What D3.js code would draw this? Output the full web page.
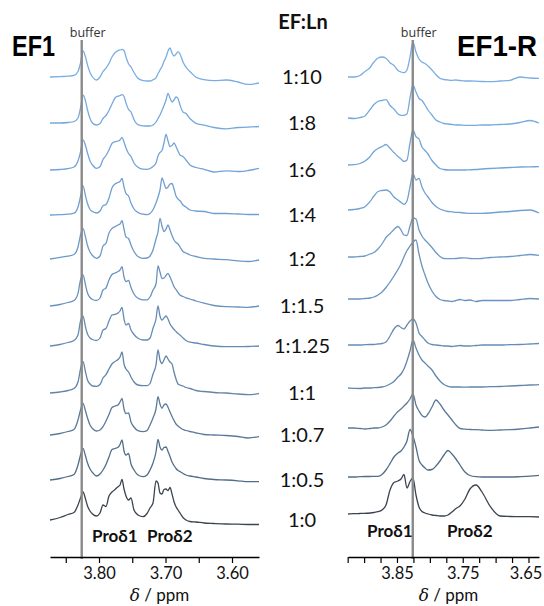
<!DOCTYPE html>
<html><head><meta charset="utf-8">
<script src="https://cdn.jsdelivr.net/npm/d3@7"></script>
<style>body{margin:0;background:#fff}</style>
</head><body><svg id="c" width="544" height="606"></svg>
<script>
// ---------- data ----------
const ratios = ["1:10","1:8","1:6","1:4","1:2","1:1.5","1:1.25","1:1","1:0.7","1:0.5","1:0"];
const bufferPpm = 3.826;

// EF1 (left) chemical-shift knots, ppm
const ef1Ppm = [3.8737,3.8586,3.8466,3.8376,3.8316,3.8278,3.8241,3.8203,3.8173,3.8135,3.8098,3.8038,
 3.7985,3.7940,3.7895,3.7850,3.7805,3.7759,3.7714,3.7684,3.7654,3.7624,3.7594,3.7556,3.7519,3.7474,3.7414,3.7338,3.7278,
 3.7233,3.7188,3.7143,3.7113,3.7083,3.7053,3.7023,3.6992,3.6962,3.6932,3.6902,3.6872,3.6842,3.6812,3.6782,3.6737,3.6692,3.6632,3.6541,
 3.6421,3.6271,3.6090,3.5910,3.5759,3.5594];
// EF1 intensities (a.u.) per ratio
const ef1_r10  = [0,0.4,0.8,1.6,5.5,14,26,20,12,4.5,0,-3,0,5.5,8.8,13.5,20,24.3,26.4,27,27.6,26.5,20,13.2,10,4.5,-1.3,-3.6,-4,-4,-2.8,-0.8,3.2,7,10.5,15.5,20,26,29,24,21,23,25.3,23,15,9.8,5.5,-0.3,-2.6,-3.6,-3,-5,-7.4,-6];
const ef1_r8   = [0,0,0.5,1.5,5,15,28,22,13,4.5,0,-2,-0.5,4.5,7.5,12.5,19,25,26.8,27.5,28.3,26.5,20,13.5,11,3.5,-1.7,-2.8,-3,-3,-2,1,4.5,8,12.5,17.5,23,29.5,25,21,23,26,24.5,18,11,9.5,4.5,-0.3,-2.2,-4.5,-5.8,-4.5,-4.2,-3.5];
const ef1_r6   = [0,0.5,1.3,3,9,18,30,24.5,17,9,5,1.7,3.3,10.5,14.5,20,26.5,28.3,29,30,32.7,28,22,16.5,13.5,7,2.7,0.8,0.7,1.5,3.5,7,14,17.5,19.5,27,35.5,29,23.5,24.5,27,23.5,19,15,13.5,10,5,2.5,0.7,-2,-0.8,-1.5,-0.5,1.7];
const ef1_r4   = [0,0.3,0.8,1.8,8,18.5,29.3,19,11.5,5.5,3.5,2,4,9.3,10.5,17,27,31,32.5,33.5,36.7,28,21.5,19,12,6,2.5,0.8,0.3,1.5,5.3,12,17.7,25,37,32,26.5,28,31,31.5,26,19,16,14.3,10,8,5,4,3.5,1.5,1.5,1,0.5,0.5];
const ef1_r2   = [0,1.7,2.8,4.5,12,24,30.7,22,13.5,7,3.5,0.7,3,13,15.7,26,30.5,32.3,34,35,38.3,30,22,20.5,14,7.5,2.5,0.7,1,3,9,20,27,40.7,33,27.5,30,34,29,23.5,19,16.5,15,12,7.5,6,4,2.5,0.7,0,-0.7,-1.8,-2.5,-1];
const ef1_r1_5 = [0,1.5,3.5,5.5,12.7,26,31,21,13,8.5,6.5,5.5,8,16,18,26,31.5,33,34.5,36,39.3,29,24.5,25.5,18.5,12,7.7,6.2,6.2,9,16,22,40,34,27.5,28,30.5,32.7,29,24.3,19.3,16.5,13.5,11,9.5,8.2,7,5,2.8,0.5,-0.7,-1,-1.3,0];
const ef1_r1_25= [0,1.5,3.5,5.5,11,25,30,19,12,8,6.5,5.5,8,16,17.5,25,31,31.7,33,35,38.7,27,21,22.5,16,11.5,7.7,6,6,8,17.7,27,40,30,26,28,30,27,22,19,16.5,14.5,12.5,11,8,5.5,3.8,3,1.5,0,-0.7,-0.7,-0.5,0];
const ef1_r1   = [0,1,2.5,4.5,11,24,31.6,21,13,9,7,6.7,8.5,15,18.3,24,29,31.5,33.5,36,41,29,24,21,16,11,8,7.3,7.3,9.5,19,28,43,33,29.5,33,37,34,31,29,21,14,9,8,7,5.5,4.5,2.5,1.5,0.5,0,-1,-1.7,-0.7];
const ef1_r0_7 = [0,1.5,3.5,5.5,15,25,31.7,24,17,10,6.5,4,5,8.3,14,20.5,27.5,29,30,33,36.7,26,21.5,22,13,8,4.3,3.3,4.3,10,17,26,38.3,31,26.7,30,31,27.7,23,18.5,14.5,11,9,7.5,5.5,4.5,3.5,2,0.5,0,-0.5,-1.5,-3,-1.7];
const ef1_r0_5 = [0,1.5,3.5,5.5,15,25,31.7,24,17,11,7.5,4,6,10,15.5,23,30.5,31.5,32.7,35.5,40,29,25,26.5,16,10,5,3.3,5,10,17,28,40.7,33,30,32.5,33,28.5,23.5,18,14.5,11.5,9.5,8.5,6.5,5,4,3,1.5,0.5,0,-0.8,-1.7,-1.7];
const ef1_r0   = [0,2.5,5.5,7.5,15,22,28,21,14,9,6,4,7,15,13.5,24,28,30.5,33.3,35,40.5,31,24,20,22,10,5,3.3,6.5,12,17,39,37,27,26,30.5,31,29.3,32.5,26,18.3,13.3,10,7,2.5,0,-1.5,-2,-3,-3.5,-4,-4.2,-4.5,-4.5];
// stacking offsets (a.u.), top to bottom
const ef1Offsets = [443,397,350,305,261,214,174,127,85,40,0];

// EF1-R (right) chemical-shift knots, ppm
const ef1rPpm = [3.9245,3.9154,3.9063,3.8987,3.8911,3.8850,3.8789,3.8728,3.8667,3.8606,3.8546,3.8485,3.8439,3.8394,3.8348,3.8302,
 3.8257,3.8211,3.8165,3.8120,3.8074,3.8029,3.7968,3.7907,3.7846,3.7785,3.7724,3.7664,3.7603,3.7542,3.7466,3.7390,3.7298,3.7207,3.7086,3.6933,3.6781,3.6629,3.6477,3.6340];
const ef1r_r10  = [0,0,1.5,5.5,9.3,15,19,20,18.7,14.3,11.5,6.5,5,4.3,7,20,35,25,18,15,13.5,11,7,2.5,-1.3,-2.5,-3,-3.3,-3,-3.5,-4,-4,-4.2,-4.5,-4.7,-4,-3.3,0,-1,-1.3];
const ef1r_r8   = [0,-0.5,0.5,2,8.3,13.5,16.5,17.5,18.3,12.5,9,4,2.7,2.7,4,20,33,26,19.5,17.5,13,8,3,-2,-4,-5.5,-6,-6.5,-7,-7,-7.3,-7.3,-7.3,-7,-7,-6.5,-6,-4.5,-2.5,-5];
const ef1r_r6   = [0,0.3,1.5,4,8.3,13.5,16.5,18.3,20.5,16.7,12.5,8.5,6,3.5,5,22,35,28.3,26,18,14.5,11,4.5,0,-3.5,-4.5,-5,-5,-5,-5,-5,-4.8,-4.5,-4,-3.5,-3,-2.5,-2,-1.8,-1.7];
const ef1r_r4   = [0,0.5,1.5,3.3,8.3,14,18.5,19.5,20,18,13,10,7.5,5.7,9,23,36.7,30,31.7,23,17,13,7.5,3.5,1,-0.5,-1.5,-1.8,-2.3,-2.5,-3,-3.3,-3.3,-3.3,-3,-2,-1.5,-0.5,0,-3];
const ef1r_r2   = [0,0,0.5,1,3,4.5,8,13,19.5,23.3,27.5,30.5,27,22,21.5,31,39,38,27,21,17,14,9.5,4.5,0.5,-1.5,-1.7,-1.7,-1.5,-1,-0.8,-1.5,-1.7,-1.5,-0.5,0,0.5,1.5,2.5,1.7];
const ef1r_r1_5 = [0,0,0,0.5,1,2,4,7,11.5,17,23,29.5,35,42,48.5,53,57,59,45,33,24,16,8,2.5,-0.5,-1.5,-2,-2.5,-1.5,-0.5,-1.5,-1,-2.5,-1.5,-1.5,-1.5,-1.5,-0.5,0.5,0];
const ef1r_r1_25= [0,0,0,0.3,0.5,0.5,1,1.5,3,9,16,19.5,17.5,16,20,24,26,22,12,8.5,5,2,0.5,0,-0.5,-1,-1,-1.5,-1,-0.5,-1,-1,-0.5,0,0,0,0.3,0.5,1,1.5];
const ef1r_r1   = [0,-0.3,-0.5,0,0,0.3,0.5,1,2,4,6.5,11,14,19,27,37,48,40,33,28,25,22,18,12,7,3.5,1.7,1,1,1,0.8,1,1,1,1.3,1.5,2,2.5,3,3.3];
const ef1r_r0_7 = [0,0,-0.5,-1,-0.5,0,0,1,3,7,12,16.5,19,22,25,29,34,23,17,12.5,11,14,21,28,24,18,13,8,3,-0.5,-1.2,-1.5,-1.7,-2,-2.3,-2,-1.7,-1,0,1];
const ef1r_r0_5 = [0,0,0.3,0.5,0.5,0.7,0.7,2.5,7,13.3,20,24,26,30,36,47.5,41,30,16.7,12,9,7,7.5,11,16,22,26.5,23,18,12,5,1.5,0.3,0,0,0,0,0.3,0.8,1.7];
const ef1r_r0   = [0,0.3,0.5,0.7,1,1.5,2.3,4,9,24,31.5,33,35,39.5,26,32.5,36,19,7,2.5,1,0,-1,-1.5,-2,-2,-1,2,5.5,8,15,25,29,22,8,-2,-2.5,-2.7,-2.7,-3];
const ef1rOffsets = [437,396,349,304,257,215,169,126,86,37,0];

// axes
const ef1Ticks = [3.85,3.80,3.75,3.70,3.65,3.60];
const ef1TickLabels = [3.80,3.70,3.60];
const ef1rTicks = [3.925,3.90,3.875,3.85,3.825,3.80,3.775,3.75,3.725,3.70,3.675,3.65];
const ef1rTickLabels = [3.85,3.75,3.65];

const traceColors = ["#79ade3","#76a9de","#73a4d8","#709fd1","#6d99c8","#6993be","#668cb3","#6285a8","#5b7a9a","#526d88","#3b4450"];

// ---------- drawing ----------
const svg = d3.select("#c");
const ef1Series = [ef1_r10,ef1_r8,ef1_r6,ef1_r4,ef1_r2,ef1_r1_5,ef1_r1_25,ef1_r1,ef1_r0_7,ef1_r0_5,ef1_r0];
const ef1rSeries = [ef1r_r10,ef1r_r8,ef1r_r6,ef1r_r4,ef1r_r2,ef1r_r1_5,ef1r_r1_25,ef1r_r1,ef1r_r0_7,ef1r_r0_5,ef1r_r0];

const xL = d3.scaleLinear().domain([3.8737, 3.5594]).range([50, 259]);
const xR = d3.scaleLinear().domain([3.9245, 3.6340]).range([348, 539]);
const yL = d3.scaleLinear().domain([0, 443]).range([520, 77]);
const yR = d3.scaleLinear().domain([0, 437]).range([514, 77]);
const axisY = 557;

function drawPanel(x, y, ppm, series, offsets, ticks, labels, lastShift) {
  const g = svg.append("g");
  series.forEach((s, i) => {
    const line = d3.line()
      .x((d, j) => x(ppm[j]))
      .y(d => y(offsets[i] + d))
      .curve(d3.curveMonotoneX);
    g.append("path").attr("d", line(s))
      .attr("fill", "none").attr("stroke", traceColors[i])
      .attr("stroke-width", 1.3).attr("stroke-linejoin", "round");
  });
  // buffer reference line
  g.append("line")
    .attr("x1", x(bufferPpm)).attr("x2", x(bufferPpm))
    .attr("y1", 40).attr("y2", axisY + 2)
    .attr("stroke", "#8a8a8a").attr("stroke-width", 2.4);
  g.append("text").attr("x", x(bufferPpm) + 6).attr("y", 37)
    .attr("text-anchor", "middle").attr("font-family", "'Open Sans', sans-serif")
    .attr("font-size", 12.5).attr("fill", "#333").text("buffer");
  // axis
  const ax = d3.axisBottom(x).tickValues(ticks).tickSize(6).tickSizeOuter(0)
    .tickFormat(d => labels.some(v => Math.abs(v - d) < 1e-6) ? d.toFixed(2) : "");
  const ag = svg.append("g").attr("transform", `translate(0,${axisY})`).call(ax);
  ag.select(".domain").attr("stroke", "#000").attr("stroke-width", 1.5);
  ag.selectAll(".tick line").attr("stroke", "#000").attr("stroke-width", 1.2);
  ag.selectAll(".tick text").attr("y", 10).attr("font-size", 16.5)
    .attr("font-family", "Lato, sans-serif").attr("fill", "#111");
  if (lastShift) {
    ag.selectAll(".tick text").filter(d => Math.abs(d - ticks[ticks.length - 1]) < 1e-6).attr("dx", lastShift);
  }
  // axis title
  const t = svg.append("text").attr("x", (x.range()[0] + x.range()[1]) / 2 + 5).attr("y", 601)
    .attr("text-anchor", "middle").attr("font-family", "Lato, sans-serif")
    .attr("font-size", 17).attr("fill", "#111");
  t.append("tspan").attr("font-style", "italic").attr("font-family", "'DejaVu Serif', serif").text("δ");
  t.append("tspan").text(" / ppm");
}

drawPanel(xL, yL, ef1Ppm, ef1Series, ef1Offsets, ef1Ticks, ef1TickLabels, 0);
drawPanel(xR, yR, ef1rPpm, ef1rSeries, ef1rOffsets, ef1rTicks, ef1rTickLabels, -3);

// panel titles
svg.append("text").attr("x", 12).attr("y", 56).attr("font-family", "'Liberation Sans Narrow','Liberation Sans',sans-serif")
  .attr("font-weight", "bold").attr("font-size", 30).attr("textLength", 43).attr("lengthAdjust", "spacingAndGlyphs")
  .attr("fill", "#000").text("EF1");
svg.append("text").attr("x", 457).attr("y", 56).attr("font-family", "'Liberation Sans Narrow','Liberation Sans',sans-serif")
  .attr("font-weight", "bold").attr("font-size", 30).attr("textLength", 80).attr("lengthAdjust", "spacingAndGlyphs")
  .attr("fill", "#000").text("EF1-R");

// ratio column
svg.append("text").attr("x", 303).attr("y", 29).attr("text-anchor", "middle")
  .attr("font-family", "Lato, sans-serif").attr("font-weight", "bold").attr("font-size", 20)
  .attr("fill", "#111").text("EF:Ln");
svg.append("g").selectAll("text").data(ratios).join("text")
  .attr("x", 302).attr("y", (d, i) => yL(ef1Offsets[i]) + 7)
  .attr("text-anchor", "middle").attr("font-family", "Lato, sans-serif")
  .attr("font-size", 20).attr("fill", "#111").text(d => d);

// peak labels
function proLabel(x0, y0, n) {
  const t = svg.append("text").attr("x", x0).attr("y", y0)
    .attr("font-family", "Lato, sans-serif").attr("font-weight", "bold")
    .attr("font-size", 17).attr("fill", "#111");
  t.append("tspan").text("Pro");
  t.append("tspan").text("δ" + n);
}
proLabel(92, 542, 1);
proLabel(147, 542, 2);
proLabel(367, 537, 1);
proLabel(447, 537, 2);
</script></body></html>
